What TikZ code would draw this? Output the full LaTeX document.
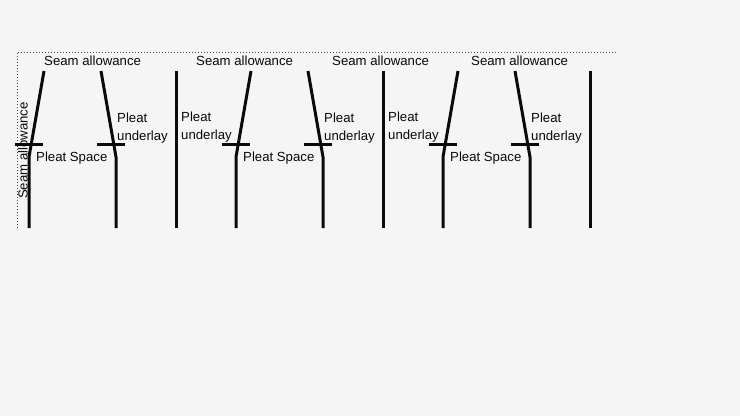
\documentclass[tikz,border=0pt]{standalone}
\usepackage{fontspec}
\setmainfont{Liberation Sans}
\usetikzlibrary{positioning}
\definecolor{pagebg}{HTML}{F5F5F5}
\definecolor{inkline}{HTML}{0A0A0A}
\tikzset{
  pleatline/.style={draw=inkline, line width=3pt, line join=miter},
  seamline/.style={draw=inkline!75!pagebg, line width=1pt, dash pattern=on 1.2pt off 1.8pt},
  lbl/.style={inner sep=0pt, anchor=west, align=left, text=inkline, font=\fontsize{13.2}{18.5}\selectfont}}

\begin{document}
\begin{tikzpicture}[x=1pt,y=-1pt]
    \fill[pagebg] (0,0) rectangle (740,416);
    \useasboundingbox (0,0) rectangle (740,416);
    \draw[seamline] (17,228) -- (17,52) -- (617,52);
    \foreach \x/\n in {0/a,207/b,414/c} {
      \draw[pleatline] (44+\x,71) -- (29+\x,157) -- (29+\x,228);
      \draw[pleatline] (15+\x,144.5) -- (43+\x,144.5);
      \draw[pleatline] (101+\x,71) -- (116+\x,157) -- (116+\x,228);
      \draw[pleatline] (97+\x,144.5) -- (125+\x,144.5);
      \draw[pleatline] (176+\x,71) -- (176+\x,228);
      \node[lbl] (space\n) at (36+\x,158) {Pleat Space};
    }
    \node[lbl] (seama) at (44,61) {Seam allowance};
    \node[lbl] (seamb) at (196,61) {Seam allowance};
    \node[lbl] (seamc) at (332,61) {Seam allowance};
    \node[lbl] (seamd) at (471,61) {Seam allowance};
    \node[lbl] (undera) at (117,128) {Pleat\\underlay};
    \node[lbl] (underb) at (181,127) {Pleat\\underlay};
    \node[lbl] (underc) at (324,128) {Pleat\\underlay};
    \node[lbl] (underd) at (388,127) {Pleat\\underlay};
    \node[lbl] (undere) at (531,128) {Pleat\\underlay};
    \node[lbl, anchor=center, rotate=90] (seamside) at (23,150.5) {Seam allowance};
  \end{tikzpicture}
\end{document}
